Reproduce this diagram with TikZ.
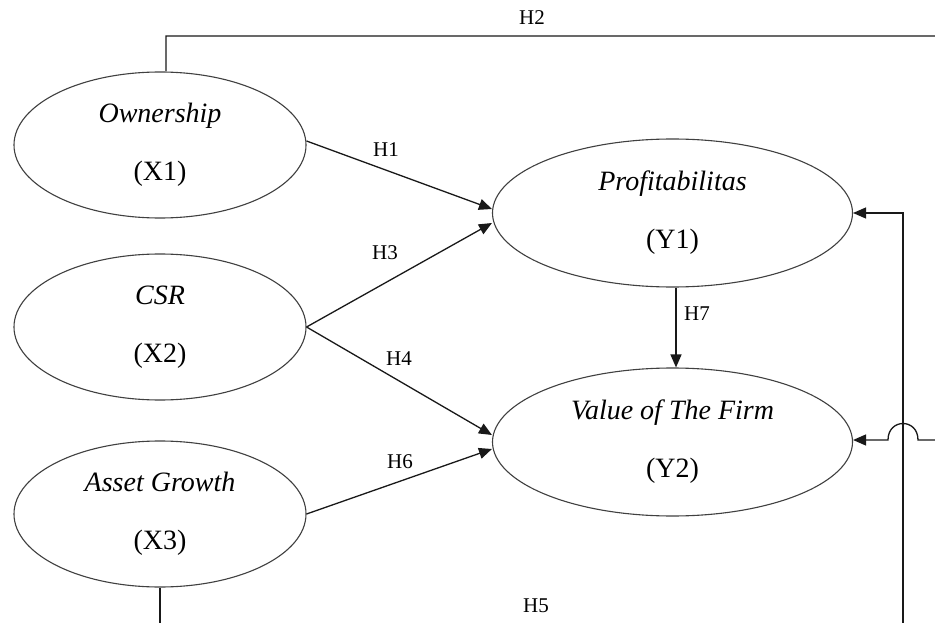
\documentclass[tikz,border=0pt]{standalone}
\usepackage{fontspec}
\setmainfont{Liberation Serif}
\usetikzlibrary{shapes.geometric,arrows.meta,calc}
\begin{document}
\begin{tikzpicture}[x=1pt,y=-1pt,
  latent/.style={ellipse,draw=black!75,line width=1.1pt,minimum width=292pt,minimum height=146pt,inner sep=0pt,align=center,font=\fontsize{28}{58}\selectfont},
  latentwide/.style={latent,minimum width=360pt,minimum height=148pt},
  path/.style={line width=1.3pt,draw=black!90,-{Triangle[length=13pt,width=11pt]}},
  hlab/.style={font=\fontsize{21}{24}\selectfont,inner sep=1pt}]
\clip (0,0) rectangle (935,623);
\fill[white] (0,0) rectangle (935,623);
\node[latent] (own) at (160,145) {\textit{Ownership}\\(X1)};
\node[latent] (csr) at (160,327) {\textit{CSR}\\(X2)};
\node[latent] (ag) at (160,514) {\textit{Asset Growth}\\(X3)};
\node[latentwide] (y1) at (672.5,213) {\textit{Profitabilitas}\\(Y1)};
\node[latentwide] (y2) at (672.5,442) {\textit{Value of The Firm}\\(Y2)};
\draw[path] ($(own.east)+(0,-4)$) -- ($(y1.west)+(0,-4)$);
\draw[path] (csr.east) -- ($(y1.west)+(0,10)$);
\draw[path] (csr.east) -- ($(y2.west)+(0,-7)$);
\draw[path] (ag.east) -- ($(y2.west)+(0,7)$);
\draw[path] ($(y1.south)+(3.5,0)$) -- ($(y2.north)+(3.5,0)$);
\coordinate (tr) at (950,36);
\coordinate (hopR) at (918,440);
\coordinate (hopL) at (888,440);
\draw[path] ($(own.north)+(6,0)$) |- (tr) |- (hopR) .. controls (918,418) and (888,418) .. (hopL) -- (y2.east |- hopL);
\coordinate (br) at (903,640);
\draw[path] (ag.south) |- (br) |- (y1.east);
\node[hlab] (h1) at (386,150) {H1};
\node[hlab] (h2) at (532,18) {H2};
\node[hlab] (h3) at (385,253) {H3};
\node[hlab] (h4) at (399,359) {H4};
\node[hlab] (h5) at (536,606) {H5};
\node[hlab] (h6) at (400,462) {H6};
\node[hlab] (h7) at (697,314) {H7};
\end{tikzpicture}
\end{document}
